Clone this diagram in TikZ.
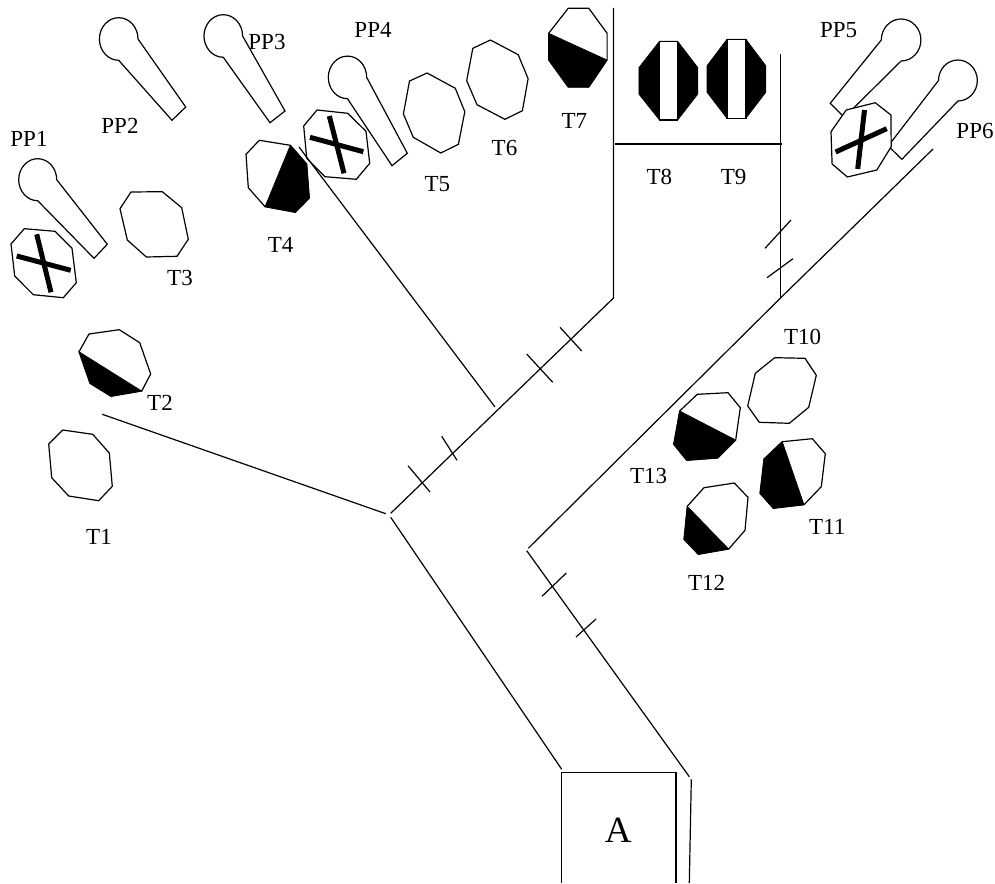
\documentclass[tikz,border=0pt]{standalone}
\usepackage{fontspec}
\setmainfont{Liberation Serif}
\tikzset{
  ln/.style={draw=black,line width=1.2pt,line join=miter},
  tree/.style={ln,fill=white},
  blk/.style={fill=black,draw=black,line width=0.6pt},
  crossbar/.style={draw=black,line width=5pt},
  lab/.style={font=\fontsize{23}{26}\selectfont,inner sep=0pt,text=black},
}
\begin{document}
\begin{tikzpicture}[x=1pt,y=-1pt]
\useasboundingbox (0,0) rectangle (995,883);
% pins (PP)
\draw[tree] (37.7,200.7) arc[start angle=90,end angle=360,x radius=19,y radius=21] -- (107.3,244.3) -- (94,258.3) -- cycle;
\draw[tree] (118.7,60.3) arc[start angle=90,end angle=360,x radius=19.3,y radius=21.3] -- (185.7,107) -- (172,120.3) -- cycle;
\draw[tree] (223.3,57.3) arc[start angle=90,end angle=360,x radius=19.3,y radius=21.3] -- (285,111) -- (270,122.7) -- cycle;
\draw[tree] (347.5,98.7) arc[start angle=90,end angle=360,x radius=19.2,y radius=21.3] -- (407.3,153.3) -- (392,165.7) -- cycle;
\draw[tree] (881.3,40) arc[start angle=180,end angle=450,x radius=19.8,y radius=21] -- (844.3,117.3) -- (830.2,103.3) -- cycle;
\draw[tree] (938.5,80.5) arc[start angle=180,end angle=450,x radius=19.4,y radius=20.5] -- (901.9,159.3) -- (888.2,146) -- cycle;
% crossed trees
\draw[tree] (24.3,228.7) -- (55,231.3) -- (72,248.3) -- (76.3,282.7) -- (63.3,297.7) -- (33.3,294.7) -- (14.7,276) -- (11,244) -- cycle;
\draw[crossbar] (36.7,234.3) -- (51,292.3);
\draw[crossbar] (16.7,256) -- (70.7,270.3);
\draw[tree] (317,110) -- (347.7,113.3) -- (366,131.3) -- (369.7,163.3) -- (356.3,179.3) -- (325,176.7) -- (306.7,158.3) -- (303.7,126) -- cycle;
\draw[crossbar] (329.3,116) -- (344,173.3);
\draw[crossbar] (310,137.3) -- (363.3,151.7);
\draw[tree] (875.2,102.7) -- (890.9,115) -- (891.2,146.7) -- (876.8,170) -- (847.4,177) -- (832.1,164) -- (831,131.7) -- (846.2,110) -- cycle;
\draw[crossbar] (864.5,110) -- (857.7,169);
\draw[crossbar] (835.6,152) -- (886.7,128.7);
% plain trees
\draw[tree] (62.7,430) -- (92.7,434.3) -- (109.3,453) -- (112.3,486.3) -- (98.7,500.7) -- (68.7,496) -- (51.7,477.7) -- (48.7,444) -- cycle;
\draw[tree] (131,192) -- (162.3,191.7) -- (181.7,207.7) -- (188.3,239.3) -- (177,256.3) -- (146.3,257) -- (127.3,240) -- (120,208.7) -- cycle;
\draw[tree] (427.1,73) -- (455.3,88.3) -- (464.8,111.7) -- (458.4,144.3) -- (440.8,153) -- (413.3,137.3) -- (403.4,114) -- (409.5,81) -- cycle;
\draw[tree] (490.4,40) -- (518.2,54.7) -- (528.1,78.7) -- (522.4,110.7) -- (504.9,119.3) -- (477,104.7) -- (466.7,80.7) -- (472.8,48.3) -- cycle;
\draw[tree] (774.7,357.7) -- (805,358.3) -- (816.3,375.3) -- (808.7,407.3) -- (789.3,423.3) -- (759.3,422.3) -- (747.7,406) -- (755.3,373.3) -- cycle;
% half black trees
\draw[tree] (89,334) -- (119.3,329.7) -- (139.7,342.7) -- (150.7,374) -- (141.7,391) -- (111,396.3) -- (90,383.3) -- (79,351.7) -- cycle;
\draw[blk] (79,351.7) -- (141.7,391) -- (111,396.3) -- (90,383.3) -- cycle;
\draw[tree] (259.3,140.3) -- (290.3,145.3) -- (306.7,164) -- (309.3,198) -- (295.3,212.3) -- (265,206.7) -- (248.3,187.7) -- (246,154.3) -- cycle;
\draw[blk] (290.3,145.3) -- (306.7,164) -- (309.3,198) -- (295.3,212.3) -- (265,206.7) -- cycle;
\draw[tree] (568.2,8.3) -- (588.8,8.3) -- (607.1,33.3) -- (607.1,60) -- (588.8,87) -- (568.2,87) -- (548.7,60) -- (548.7,33.3) -- cycle;
\draw[blk] (548.7,33.3) -- (607.1,60) -- (588.8,87) -- (568.2,87) -- (548.7,60) -- cycle;
\draw[tree] (782.3,441.7) -- (812.3,438.7) -- (825.3,453.7) -- (821.3,486.7) -- (804,504.7) -- (773.3,508.3) -- (760,493.3) -- (764,459) -- cycle;
\draw[blk] (782.3,441.7) -- (804,504.7) -- (773.3,508.3) -- (760,493.3) -- (764,459) -- cycle;
\draw[tree] (704,487.7) -- (734.3,483) -- (748,497.3) -- (745,530.3) -- (728.7,549) -- (698.3,554.3) -- (684,539.3) -- (687.3,506.3) -- cycle;
\draw[blk] (687.3,506.3) -- (728.7,549) -- (698.3,554.3) -- (684,539.3) -- cycle;
\draw[tree] (697.3,394.3) -- (728,392.7) -- (740.3,407.7) -- (735.7,440) -- (717.7,458) -- (686.7,460.3) -- (673.7,444.3) -- (679.7,411) -- cycle;
\draw[blk] (679.7,411) -- (735.7,440) -- (717.7,458) -- (686.7,460.3) -- (673.7,444.3) -- cycle;
% banded trees
\draw[blk] (659.4,41.3) -- (677.7,41.3) -- (697.9,67.7) -- (697.9,94) -- (677.7,120) -- (659.4,120) -- (638.8,94) -- (638.8,67.7) -- cycle;
\draw[tree] (659.4,41.3) rectangle (677.7,120);
\draw[blk] (726.9,39.3) -- (745.9,39.3) -- (765.8,65.7) -- (765.8,92.3) -- (745.9,118.3) -- (726.9,118.3) -- (707,92.3) -- (707,65.7) -- cycle;
\draw[tree] (726.9,39.3) rectangle (745.9,118.3);
% road network
\coordinate (rWest) at (102.3,414.3);
\coordinate (rWestEnd) at (385.7,513.7);
\coordinate (fork) at (390.7,513.3);
\coordinate (forkLow) at (390.7,517.3);
\coordinate (leftBase) at (561.7,769.3);
\coordinate (midEnd) at (299,147);
\coordinate (midFoot) at (495,407);
\coordinate (v1Top) at (613.5,8);
\coordinate (v1Foot) at (613.5,298);
\coordinate (v2Top) at (780.5,54);
\coordinate (v2Foot) at (780.5,298);
\coordinate (hL) at (615,144);
\coordinate (hR) at (782,144);
\coordinate (longEnd) at (933,149);
\coordinate (elbowU) at (528.3,548.3);
\coordinate (elbowD) at (526.7,550.7);
\coordinate (rightBase) at (689.3,776.7);
\coordinate (sideTop) at (691.3,779.3);
\coordinate (sideBot) at (689.3,883);
\coordinate (boxBL) at (561.7,883);
\coordinate (boxTL) at (561.7,772.3);
\coordinate (boxTR) at (676,772.3);
\coordinate (boxBR) at (676,883);
\draw[ln] (rWest) -- (rWestEnd);
\draw[ln] (fork) -- (v1Foot) -- (v1Top);
\draw[ln] (forkLow) -- (leftBase);
\draw[ln] (midEnd) -- (midFoot);
\draw[ln] (hL) -- (hR);
\draw[ln] (v2Top) -- (v2Foot);
\draw[ln] (v2Foot) -- (longEnd);
\draw[ln] (v2Foot) -- (elbowU);
\draw[ln] (elbowD) -- (rightBase);
\draw[ln] (sideTop) -- (sideBot);
\draw[ln] (boxBL) -- (boxTL) -- (boxTR) -- (boxBR);
% ticks
\draw[ln] (408,465.7) -- (430,492);
\draw[ln] (441.7,436.3) -- (457,460.3);
\draw[ln] (526.7,354) -- (552.7,382.3);
\draw[ln] (560,327.3) -- (581.7,351);
\draw[ln] (765,248.3) -- (791,220);
\draw[ln] (767,277.7) -- (793,258.7);
\draw[ln] (566.3,573) -- (542,596.3);
\draw[ln] (596,619) -- (576,637);
% labels
\node[lab] (pp1) at (29,139) {PP1};
\node[lab] (pp2) at (120,126) {PP2};
\node[lab] (pp3) at (267,41.7) {PP3};
\node[lab] (pp4) at (373,30) {PP4};
\node[lab] (pp5) at (838.6,30) {PP5};
\node[lab] (pp6) at (975,130.7) {PP6};
\node[lab] (t1) at (99,537) {T1};
\node[lab] (t2) at (160,403) {T2};
\node[lab] (t3) at (180,278) {T3};
\node[lab] (t4) at (280.7,245) {T4};
\node[lab] (t5) at (437.4,184) {T5};
\node[lab] (t6) at (504.5,148) {T6};
\node[lab] (t7) at (574.3,120.7) {T7};
\node[lab] (t8) at (659.4,177.3) {T8};
\node[lab] (t9) at (733.7,177.3) {T9};
\node[lab] (t10) at (802.7,336.7) {T10};
\node[lab] (t11) at (827.3,527.3) {T11};
\node[lab] (t12) at (706.7,583.3) {T12};
\node[lab] (t13) at (648.7,475.7) {T13};
\node[lab,font=\fontsize{37}{41}\selectfont] (a) at (618.3,830) {A};
\end{tikzpicture}
\end{document}
